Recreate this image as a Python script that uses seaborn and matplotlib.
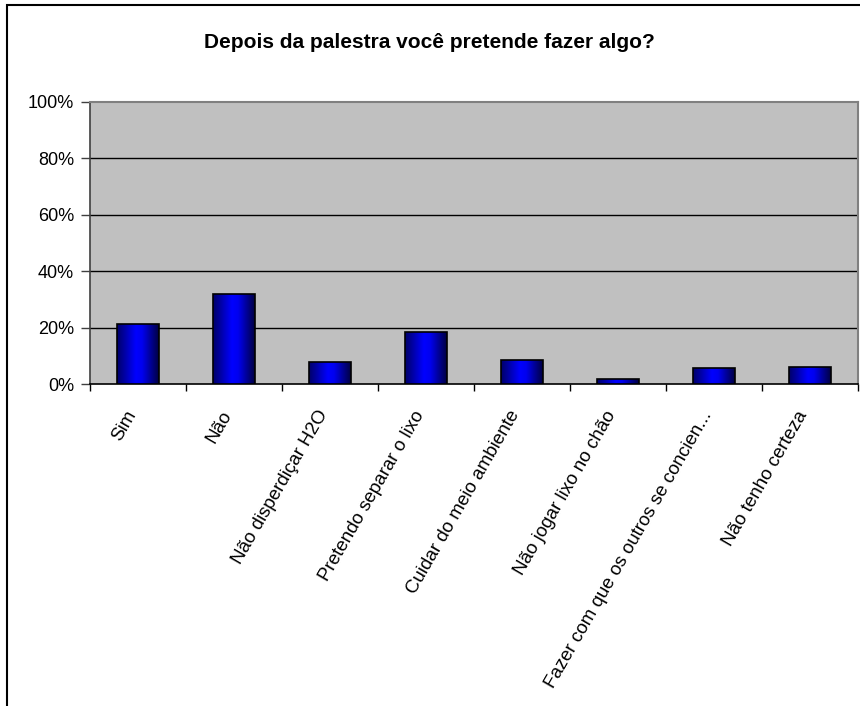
import matplotlib
matplotlib.use("Agg")
import matplotlib.pyplot as plt
import seaborn as sns
import numpy as np
import pandas as pd
from matplotlib.colors import LinearSegmentedColormap
from matplotlib.patches import Rectangle
from matplotlib.ticker import FixedLocator, PercentFormatter
from matplotlib.transforms import ScaledTranslation

categories = ["Sim", "Não", "Não disperdiçar H2O", "Pretendo separar o lixo",
              "Cuidar do meio ambiente", "Não jogar lixo no chão",
              "Fazer com que os outros se concien...", "Não tenho certeza"]
values = [21.3, 32.0, 7.7, 18.6, 8.6, 1.6, 5.6, 6.0]
y_ticks = [0, 20, 40, 60, 80, 100]
title = "Depois da palestra você pretende fazer algo?"

sns.set_style("white")
plt.rcParams['font.family'] = ['Liberation Sans', 'DejaVu Sans']
plt.rcParams['text.color'] = 'black'
plt.rcParams['xtick.color'] = 'black'
plt.rcParams['ytick.color'] = 'black'

df = pd.DataFrame({"cat": categories, "val": values})

fig = plt.figure(figsize=(8.6, 7.06), dpi=100)
W, H = 860, 706
ax = fig.add_axes([90 / W, 1 - 384 / H, (858 - 90) / W, (384 - 102) / H])
ax.set_facecolor("#C0C0C0")

sns.barplot(data=df, x="cat", y="val", ax=ax, color="#0000FF", width=0.43,
            edgecolor="black", linewidth=1.2, saturation=1, zorder=3)

# gradient fill on bars
cmap = LinearSegmentedColormap.from_list(
    "g", [(0, "#00006A"), (0.45, "#0000FF"), (0.6, "#0000F0"), (1, "#000045")])
grad = np.linspace(0, 1, 64).reshape(1, -1)
for p in list(ax.patches):
    x0, w, h = p.get_x(), p.get_width(), p.get_height()
    im = ax.imshow(grad, cmap=cmap, aspect="auto", extent=[x0, x0 + w, 0, h],
                   zorder=3.5, interpolation="bicubic")
    im.set_clip_path(p)
    p.set_facecolor("none")
    p.set_zorder(4)
ax.set_aspect("auto")
ax.set_xlim(-0.5, len(categories) - 0.5)
ax.set_ylim(0, 100)

# grid lines
for t in y_ticks[1:-1]:
    ax.axhline(t, color="black", linewidth=1.0, zorder=1)

ax.yaxis.set_major_locator(FixedLocator(y_ticks))
ax.yaxis.set_major_formatter(PercentFormatter(decimals=0))
ax.xaxis.set_major_locator(FixedLocator(np.arange(len(categories))))
ax.xaxis.set_minor_locator(FixedLocator(np.arange(len(categories) + 1) - 0.5))
ax.set_xticklabels(categories, rotation=60, ha="right", va="center",
                   rotation_mode="anchor", fontsize=13.5)
ax.tick_params(axis="x", which="major", length=0, pad=20)
ax.tick_params(axis="x", which="minor", length=5, width=1, color="black",
               direction="out", bottom=True)
ax.tick_params(axis="y", length=6.5, width=1, color="#404040", direction="out",
               left=True, labelsize=13, pad=5)
ax.set_xlabel("")
ax.set_ylabel("")

offset = ScaledTranslation(-6 / 100, 0, fig.dpi_scale_trans)
for lbl in ax.get_xticklabels():
    lbl.set_transform(lbl.get_transform() + offset)

for s in ["top", "right"]:
    ax.spines[s].set_color("#808080")
    ax.spines[s].set_linewidth(1.5)
ax.spines["left"].set_color("#404040")
ax.spines["left"].set_linewidth(1.2)
ax.spines["bottom"].set_color("black")
ax.spines["bottom"].set_linewidth(1.2)

fig.text(429 / W, 1 - 42 / H, title, ha="center", va="center",
         fontsize=15, fontweight="bold")

# chart area border
fig.patches.append(Rectangle((7 / W, -0.1), 1.2, 1 - 5 / H + 0.1,
                             transform=fig.transFigure, fill=False,
                             edgecolor="black", linewidth=1.5, clip_on=False))

fig.savefig("out.png", dpi=100)
